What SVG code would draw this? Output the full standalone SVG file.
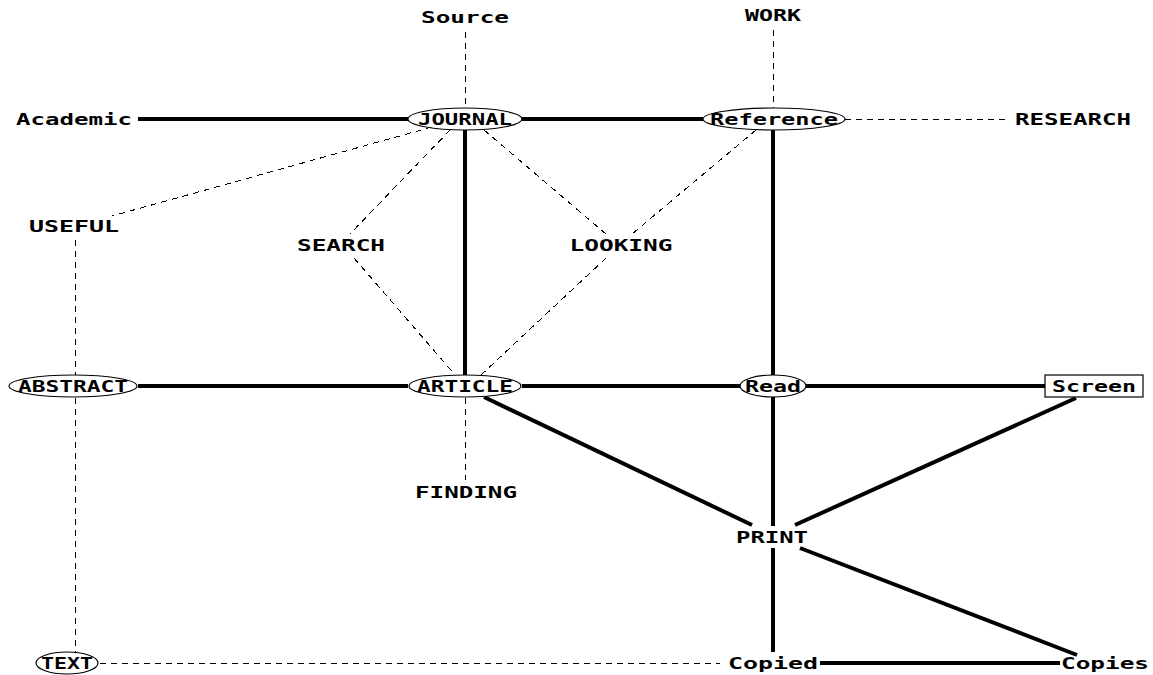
<svg xmlns="http://www.w3.org/2000/svg" width="1153" height="675" viewBox="0 0 1153 675">
<style>
  .bg { fill: #ffffff; }
  .strong { stroke: #000; stroke-width: 4; fill: none; }
  .weak { stroke: #000; stroke-width: 1; fill: none; stroke-dasharray: 6 5; shape-rendering: crispEdges; }
  .shape { fill: #ffffff; stroke: #000; stroke-width: 1.2; }
  .lbl { font-family: "DejaVu Sans Mono", "Liberation Mono", monospace; font-weight: bold; font-size: 16px; fill: #000; text-anchor: middle; }
</style>
<rect class="bg" x="0" y="0" width="1153" height="675"/>

<!-- connectors -->
<g id="connectors">
  <!-- dashed links -->
  <line class="weak" x1="465.5" y1="32" x2="465.5" y2="108"/>
  <line class="weak" x1="773.5" y1="30" x2="773.5" y2="108"/>
  <line class="weak" x1="845" y1="119.5" x2="1008" y2="119.5"/>
  <line class="weak" x1="432" y1="127" x2="112" y2="216"/>
  <line class="weak" x1="450" y1="130" x2="350" y2="234"/>
  <line class="weak" x1="484" y1="130" x2="606" y2="234"/>
  <line class="weak" x1="756" y1="130" x2="632" y2="234"/>
  <line class="weak" x1="354" y1="258" x2="456" y2="376"/>
  <line class="weak" x1="606" y1="258" x2="480" y2="376"/>
  <line class="weak" x1="75.5" y1="240" x2="75.5" y2="376"/>
  <line class="weak" x1="75.5" y1="398" x2="75.5" y2="652"/>
  <line class="weak" x1="465.5" y1="398" x2="465.5" y2="480"/>
  <line class="weak" x1="100" y1="663.5" x2="720" y2="663.5"/>
  <!-- solid links -->
  <line class="strong" x1="138" y1="119" x2="408" y2="119"/>
  <line class="strong" x1="522" y1="119" x2="703" y2="119"/>
  <line class="strong" x1="465" y1="130" x2="465" y2="375"/>
  <line class="strong" x1="773" y1="130" x2="773" y2="375"/>
  <line class="strong" x1="138" y1="386" x2="408" y2="386"/>
  <line class="strong" x1="522" y1="386" x2="740" y2="386"/>
  <line class="strong" x1="806" y1="386" x2="1045" y2="386"/>
  <line class="strong" x1="773" y1="397" x2="773" y2="526"/>
  <line class="strong" x1="773" y1="548" x2="773" y2="652"/>
  <line class="strong" x1="484" y1="397" x2="752" y2="525"/>
  <line class="strong" x1="1076" y1="398" x2="795" y2="525"/>
  <line class="strong" x1="800" y1="548" x2="1077" y2="655"/>
  <line class="strong" x1="820" y1="663" x2="1060" y2="663"/>
</g>

<!-- nodes -->
<g id="node-source"><text class="lbl" x="465" y="23" textLength="88" lengthAdjust="spacingAndGlyphs">Source</text></g>
<g id="node-work"><text class="lbl" x="773" y="21" textLength="56" lengthAdjust="spacingAndGlyphs">WORK</text></g>
<g id="node-academic"><text class="lbl" x="74" y="125" textLength="116" lengthAdjust="spacingAndGlyphs">Academic</text></g>
<g id="node-journal">
  <ellipse class="shape" cx="465" cy="119" rx="57" ry="11"/>
  <text class="lbl" x="465" y="125" textLength="94" lengthAdjust="spacingAndGlyphs">JOURNAL</text>
</g>
<g id="node-reference">
  <ellipse class="shape" cx="774" cy="119" rx="71" ry="11"/>
  <text class="lbl" x="774" y="125" textLength="128" lengthAdjust="spacingAndGlyphs">Reference</text>
</g>
<g id="node-research"><text class="lbl" x="1073" y="125" textLength="116" lengthAdjust="spacingAndGlyphs">RESEARCH</text></g>
<g id="node-useful"><text class="lbl" x="74" y="232" textLength="90" lengthAdjust="spacingAndGlyphs">USEFUL</text></g>
<g id="node-search"><text class="lbl" x="341" y="251" textLength="88" lengthAdjust="spacingAndGlyphs">SEARCH</text></g>
<g id="node-looking"><text class="lbl" x="621" y="251" textLength="103" lengthAdjust="spacingAndGlyphs">LOOKING</text></g>
<g id="node-abstract">
  <ellipse class="shape" cx="73" cy="386" rx="64" ry="11"/>
  <text class="lbl" x="73" y="392" textLength="110" lengthAdjust="spacingAndGlyphs">ABSTRACT</text>
</g>
<g id="node-article">
  <ellipse class="shape" cx="465" cy="386" rx="56" ry="11"/>
  <text class="lbl" x="465" y="392" textLength="96" lengthAdjust="spacingAndGlyphs">ARTICLE</text>
</g>
<g id="node-read">
  <ellipse class="shape" cx="773" cy="386" rx="33" ry="11"/>
  <text class="lbl" x="773" y="392" textLength="56" lengthAdjust="spacingAndGlyphs">Read</text>
</g>
<g id="node-screen">
  <rect class="shape" x="1045" y="375" width="98" height="22"/>
  <text class="lbl" x="1094" y="392" textLength="84" lengthAdjust="spacingAndGlyphs">Screen</text>
</g>
<g id="node-finding"><text class="lbl" x="466" y="498" textLength="102" lengthAdjust="spacingAndGlyphs">FINDING</text></g>
<g id="node-print"><text class="lbl" x="772" y="543" textLength="72" lengthAdjust="spacingAndGlyphs">PRINT</text></g>
<g id="node-text">
  <ellipse class="shape" cx="67" cy="663" rx="31" ry="11"/>
  <text class="lbl" x="67" y="669" textLength="52" lengthAdjust="spacingAndGlyphs">TEXT</text>
</g>
<g id="node-copied"><text class="lbl" x="773" y="669" textLength="90" lengthAdjust="spacingAndGlyphs">Copied</text></g>
<g id="node-copies"><text class="lbl" x="1105" y="669" textLength="88" lengthAdjust="spacingAndGlyphs">Copies</text></g>
</svg>
